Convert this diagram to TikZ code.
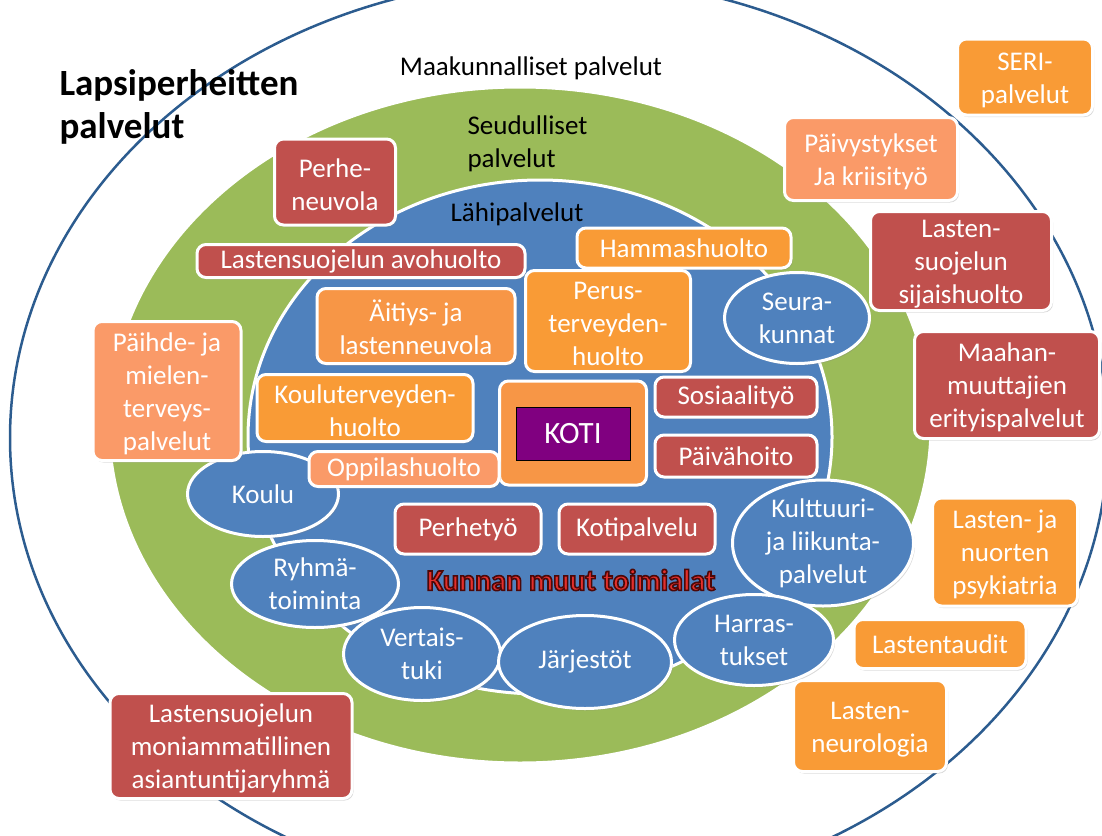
\documentclass[tikz,border=0pt]{standalone}
\usepackage{fontspec}
\setmainfont{Carlito}
\usetikzlibrary{shapes.geometric,shadows}
\definecolor{ringblue}{HTML}{2C5C8F}
\definecolor{ringgreen}{HTML}{9BBB59}
\definecolor{bubbleblue}{HTML}{4F81BD}
\definecolor{tilered}{HTML}{C0504D}
\definecolor{tileorange}{HTML}{F99B36}
\definecolor{tilemuted}{HTML}{F79646}
\definecolor{tilesalmon}{HTML}{FA9A68}
\definecolor{kotipurple}{HTML}{800080}
\definecolor{kunnanred}{HTML}{E3302C}
\newcommand{\outlined}[1]{\special{pdf:literal q 2 Tr 1.6 w 0.30 0.03 0.03 RG}#1\special{pdf:literal Q}}
\newcommand{\tallstrut}{\rule{0pt}{24pt}}
\tikzset{tile/.style={rounded corners=9pt, draw=white, line width=3pt, text=white, align=center, inner sep=0pt, font=\fontsize{27}{33}\selectfont, drop shadow={shadow xshift=1.5pt, shadow yshift=-2pt, opacity=0.3}},
  redtile/.style={tile, fill=tilered}, orangetile/.style={tile, fill=tileorange},
  mutedtile/.style={tile, fill=tilemuted}, salmontile/.style={tile, fill=tilesalmon},
  bubble/.style={ellipse, fill=bubbleblue, draw=white, line width=3pt, text=white, align=center, inner sep=0pt, font=\fontsize{27}{33}\selectfont, drop shadow={shadow xshift=1.5pt, shadow yshift=-2pt, opacity=0.3}},
  tilesize/.style 2 args={minimum width=#1pt, minimum height=#2pt},
  ringlabel/.style={text=black, font=\fontsize{27}{33}\selectfont}}

\begin{document}
\begin{tikzpicture}[x=1pt, y=-1pt]
  \useasboundingbox (0,0) rectangle (1102,835);
  \begin{scope}
    \clip (0,0) rectangle (1102,835);
    \draw [ringblue, line width=2.5pt] (559,438) ellipse [x radius=549, y radius=460];
  \end{scope}
  \fill [ringgreen, draw=white, line width=3pt] (520,425) ellipse [x radius=411, y radius=338];
  \fill [bubbleblue, draw=white, line width=3pt] (540,437) ellipse [x radius=292, y radius=257];

  \node [ringlabel, anchor=west, align=left, font=\fontsize{37}{43}\selectfont\bfseries] (title) at (56,107) {Lapsiperheitten\\palvelut};
  \node [ringlabel] (maakunta) at (531,68) {Maakunnalliset palvelut};
  \node [ringlabel, anchor=west, align=left] (seutu) at (464,144) {Seudulliset\\palvelut};
  \node [ringlabel] (lahi) at (517,214) {Lähipalvelut};

  \node [redtile, tilesize={121}{86}] (perheneuvola) at (335,182) {\tallstrut Perhe-\\neuvola};
  \node [redtile, tilesize={328}{33}] (avohuolto) at (361,261) {Lastensuojelun avohuolto};
  \node [orangetile, tilesize={214}{40}] (hammas) at (684,248) {Hammashuolto};
  \node [orangetile, tilesize={165}{101}] (perus) at (608,321) {\tallstrut Perus-\\terveyden-\\huolto};
  \node [mutedtile, tilesize={198}{75}] (aitiys) at (416,326) {\tallstrut Äitiys- ja\\lastenneuvola};
  \node [bubble, tilesize={145}{91}] (seura) at (797,318) {Seura-\\kunnat};
  \node [orangetile, tilesize={216}{67}] (kouluterveys) at (365,408) {\tallstrut Kouluterveyden-\\huolto};
  \node [mutedtile, tilesize={147}{104}] (kotikehys) at (573,433) {};
  \node [draw=black, line width=0.8pt, fill=kotipurple, text=white, font=\fontsize{31}{36}\selectfont, minimum width=114pt, minimum height=53pt] (koti) at (573,434) {KOTI};
  \node [redtile, tilesize={162}{40}] (sosiaali) at (736,397) {Sosiaalityö};
  \node [redtile, tilesize={162}{42}] (paivahoito) at (736,456) {Päivähoito};
  \node [bubble, tilesize={151}{85}] (koulu) at (263,494) {Koulu};
  \node [salmontile, tilesize={190}{35}] (oppilas) at (404,469) {Oppilashuolto};
  \node [salmontile, tilesize={148}{139}] (paihde) at (167,391) {\tallstrut Päihde- ja\\mielen-\\terveys-\\palvelut};
  \node [redtile, tilesize={146}{50}] (perhetyo) at (468,529) {Perhetyö};
  \node [redtile, tilesize={156}{50}] (kotipalvelu) at (637,529) {Kotipalvelu};
  \node [font=\fontsize{30}{36}\selectfont\bfseries, text=kunnanred] (kunnan) at (571,580) {\outlined{Kunnan muut toimialat}};
  \node [bubble, tilesize={181}{109}] (kulttuuri) at (823,543) {Kulttuuri-\\ja liikunta-\\palvelut};
  \node [bubble, tilesize={167}{87}] (ryhma) at (315,584) {Ryhmä-\\toiminta};
  \node [bubble, tilesize={157}{93}] (vertais) at (422,654) {Vertais-\\tuki};
  \node [bubble, tilesize={173}{93}] (jarjestot) at (585,662) {Järjestöt};
  \node [bubble, tilesize={159}{91}] (harras) at (754,640) {Harras-\\tukset};

  \node [redtile, tilesize={242}{105}] (moniamm) at (231,746) {\tallstrut Lastensuojelun\\moniammatillinen\\asiantuntijaryhmä};
  \node [orangetile, tilesize={153}{91}] (neuro) at (870,726) {\tallstrut Lasten-\\neurologia};
  \node [orangetile, tilesize={172}{49}] (taudit) at (940,644) {Lastentaudit};
  \node [orangetile, tilesize={145}{108}] (psyk) at (1005,552) {\tallstrut Lasten- ja\\nuorten\\psykiatria};
  \node [redtile, tilesize={185}{107}] (maahan) at (1007,385) {\tallstrut Maahan-\\muuttajien\\erityispalvelut};
  \node [redtile, tilesize={181}{99}] (sijais) at (961,261) {\tallstrut Lasten-\\suojelun\\sijaishuolto};
  \node [salmontile, tilesize={173}{83}] (paivystys) at (871,159) {\tallstrut Päivystykset\\Ja kriisityö};
  \node [orangetile, tilesize={135}{76}] (seri) at (1025,77) {\tallstrut SERI-\\palvelut};
\end{tikzpicture}
\end{document}
